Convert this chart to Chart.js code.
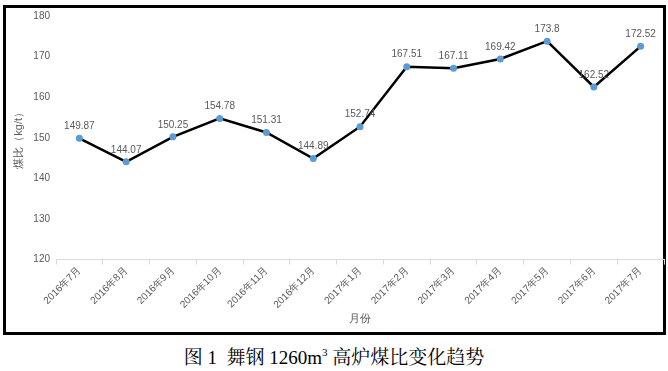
<!DOCTYPE html>
<html>
<head>
<meta charset="utf-8">
<script src="https://cdn.jsdelivr.net/npm/chart.js@4"></script>
<style>
  body { margin: 0; background: #fff; width: 668px; height: 371px; position: relative; overflow: hidden; }
  #kutu { position: absolute; left: 3px; top: 5px; width: 657px; height: 324px; border: 3px solid #000; }
  #kutu canvas { position: absolute; left: 0; top: -4px; }
  #baslik {
    position: absolute; left: 0; top: 346px; width: 668px; text-align: center;
    font-family: "Liberation Serif", "Noto Serif CJK SC", "Noto Sans CJK SC", serif;
    font-size: 19px; color: #000; line-height: 24px;
  }
  #baslik sup { font-size: 11px; vertical-align: 8px; line-height: 0; }
</style>
</head>
<body>
<div id="kutu"><canvas id="grafik" width="662" height="328"></canvas></div>
<div id="baslik">图 1&nbsp; 舞钢 1260m<sup>3</sup> 高炉煤比变化趋势</div>
<script>
// Kategoriler ve değerler
const aylar = ["2016年7月", "2016年8月", "2016年9月", "2016年10月", "2016年11月", "2016年12月",
  "2017年1月", "2017年2月", "2017年3月", "2017年4月", "2017年5月", "2017年6月", "2017年7月"];
const kokBorani = [149.87, 144.07, 150.25, 154.78, 151.31, 144.89, 152.74, 167.51, 167.11, 169.42, 173.8, 162.52, 172.52];
const yEksenMin = 120;
const yEksenMax = 180;
const yEksenAdim = 10;

const griYazi = '#595959';
const yaziTipi = '"Liberation Sans", Arial, sans-serif';

// Noktaların üstüne değer yazan basit eklenti
const degerEtiketi = {
  id: 'degerEtiketi',
  afterDatasetsDraw(chart) {
    const ctx = chart.ctx;
    const meta = chart.getDatasetMeta(0);
    ctx.save();
    ctx.font = '10px ' + yaziTipi;
    ctx.fillStyle = griYazi;
    ctx.textAlign = 'center';
    ctx.textBaseline = 'bottom';
    meta.data.forEach((nokta, i) => {
      ctx.fillText(String(kokBorani[i]), nokta.x, nokta.y - 7);
    });
    ctx.restore();
  }
};

const ctx = document.getElementById('grafik').getContext('2d');
new Chart(ctx, {
  type: 'line',
  data: {
    labels: aylar,
    datasets: [{
      data: kokBorani,
      borderColor: '#000',
      borderWidth: 2.5,
      pointRadius: 3.5,
      pointBackgroundColor: '#5B9BD5',
      pointBorderColor: '#5B9BD5',
      pointBorderWidth: 0,
      tension: 0,
      fill: false
    }]
  },
  options: {
    responsive: false,
    animation: false,
    layout: { padding: { top: 2, right: 0, left: 0, bottom: 6 } },
    scales: {
      x: {
        offset: true,
        grid: { display: true, offset: true, drawOnChartArea: false, color: '#d9d9d9', tickLength: 5 },
        border: { display: true, color: '#d9d9d9' },
        ticks: { color: griYazi, font: { size: 10, family: yaziTipi }, autoSkip: false, minRotation: 45, maxRotation: 45, padding: 0 },
        title: { display: true, text: '月份', color: griYazi, font: { size: 11, family: yaziTipi }, padding: { top: 2, bottom: 0 } }
      },
      y: {
        min: yEksenMin,
        max: yEksenMax,
        ticks: { stepSize: yEksenAdim, color: griYazi, font: { size: 10, family: yaziTipi }, padding: 6 },
        grid: { display: false, drawTicks: false },
        border: { display: false },
        title: { display: true, text: '煤比（kg/t）', color: griYazi, font: { size: 11, family: yaziTipi }, padding: { top: 6, bottom: 4 } },
        afterFit(scale) { scale.width = 50; }
      }
    },
    plugins: {
      legend: { display: false },
      tooltip: { enabled: false }
    }
  },
  plugins: [degerEtiketi]
});
</script>
</body>
</html>
